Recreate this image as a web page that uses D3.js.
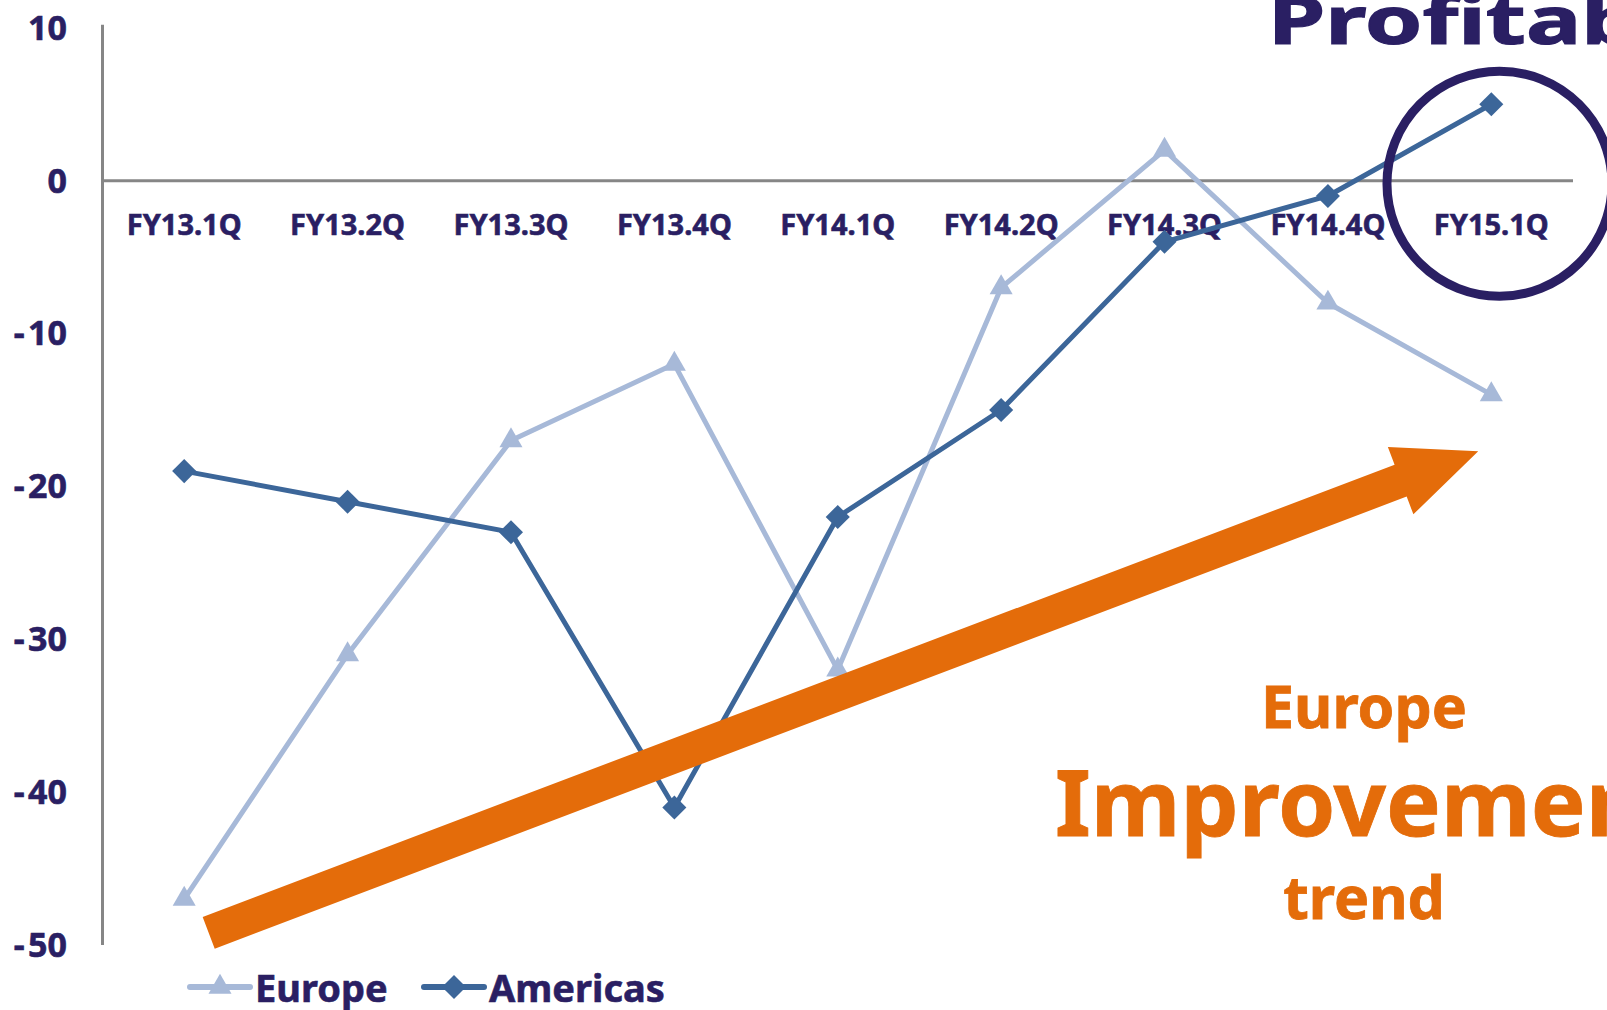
<!DOCTYPE html>
<html>
<head>
<meta charset="utf-8">
<script src="https://d3js.org/d3.v7.min.js"></script>
<style>
  body { margin: 0; background: #fff; overflow: hidden; }
  svg { display: block; font-family: "Noto Sans", sans-serif; font-weight: 700; }
  .navy { fill: #2a1f63; stroke: #2a1f63; stroke-width: 0.6px; }
  .note { fill: #e46c0a; }
  text.note { stroke: #e46c0a; stroke-width: 0.8px; }
</style>
</head>
<body>
<svg id="chart" width="1607" height="1010"></svg>
<script>
var quarters = ["FY13.1Q", "FY13.2Q", "FY13.3Q", "FY13.4Q", "FY14.1Q", "FY14.2Q", "FY14.3Q", "FY14.4Q", "FY15.1Q"];
var europe = [-47, -31, -17, -12, -32, -7, 2, -8, -14];
var americas = [-19, -21, -23, -41, -22, -15, -4, -1, 5];
var yTicks = [10, 0, -10, -20, -30, -40, -50];

// trend arrow, in (quarter index, value) units
var trendFrom = [0.15, -49.2];
var trendTo = [7.92, -17.7];

var series = [
  {name: "Europe", values: europe, color: "#a7b9d8", symbol: d3.symbolTriangle, size: 230, rotate: 0},
  {name: "Americas", values: americas, color: "#3c6699", symbol: d3.symbolSquare, size: 290, rotate: 45}
];

var svg = d3.select("#chart");

var left = 102.5, right = 1573;
var x = d3.scalePoint().domain(quarters).range([left, right]).padding(0.5);
var xi = d3.scaleLinear().domain([0, quarters.length - 1]).range([x(quarters[0]), x(quarters[quarters.length - 1])]);
var y = d3.scaleLinear().domain([-50, 10]).range([945, 27.8]);

// axes
svg.append("line")
  .attr("x1", left).attr("x2", left)
  .attr("y1", y(10) - 3).attr("y2", y(-50))
  .attr("stroke", "#868686").attr("stroke-width", 3);
svg.append("line")
  .attr("x1", left).attr("x2", right)
  .attr("y1", y(0)).attr("y2", y(0))
  .attr("stroke", "#868686").attr("stroke-width", 3);

svg.selectAll("text.ytick").data(yTicks).enter().append("text")
  .attr("class", "ytick navy")
  .attr("x", 67)
  .attr("y", function(d) { return y(d); })
  .attr("dy", "0.35em")
  .attr("text-anchor", "end")
  .style("font-size", "34px")
  .text(function(d) { return d < 0 ? "-\u200a" + Math.abs(d) : d; });

svg.selectAll("text.xtick").data(quarters).enter().append("text")
  .attr("class", "xtick navy")
  .attr("x", function(d) { return x(d); })
  .attr("y", 235)
  .attr("text-anchor", "middle")
  .style("font-size", "29px")
  .text(function(d) { return d; });

// lines and markers
var line = d3.line()
  .x(function(d, i) { return x(quarters[i]); })
  .y(function(d) { return y(d); });

series.forEach(function(s) {
  svg.append("path")
    .datum(s.values)
    .attr("d", line)
    .attr("fill", "none")
    .attr("stroke", s.color)
    .attr("stroke-width", 5)
    .attr("stroke-linejoin", "round");
  svg.selectAll(null).data(s.values).enter().append("path")
    .attr("d", d3.symbol().type(s.symbol).size(s.size))
    .attr("transform", function(d, i) { return "translate(" + x(quarters[i]) + "," + y(d) + ") rotate(" + s.rotate + ")"; })
    .attr("fill", s.color);
});

// orange trend arrow
function arrowPath(p0, p1, shaft, head, headLen) {
  var dx = p1[0] - p0[0], dy = p1[1] - p0[1];
  var len = Math.sqrt(dx * dx + dy * dy);
  var ux = dx / len, uy = dy / len, nx = -uy, ny = ux;
  var bx = p1[0] - ux * headLen, by = p1[1] - uy * headLen;
  var pts = [
    [p0[0] + nx * shaft / 2, p0[1] + ny * shaft / 2],
    [bx + nx * shaft / 2, by + ny * shaft / 2],
    [bx + nx * head / 2, by + ny * head / 2],
    p1,
    [bx - nx * head / 2, by - ny * head / 2],
    [bx - nx * shaft / 2, by - ny * shaft / 2],
    [p0[0] - nx * shaft / 2, p0[1] - ny * shaft / 2]
  ];
  return "M" + pts.map(function(p) { return p.join(","); }).join("L") + "Z";
}

svg.append("path")
  .attr("class", "note")
  .attr("d", arrowPath([xi(trendFrom[0]), y(trendFrom[1])], [xi(trendTo[0]), y(trendTo[1])], 34, 72, 83));

// circle around the last quarter
svg.append("circle")
  .attr("cx", xi(8.05))
  .attr("cy", y(-0.2))
  .attr("r", 112.5)
  .attr("fill", "none")
  .attr("stroke", "#2a1f63")
  .attr("stroke-width", 9);

// title, cut by the page edge
svg.append("text")
  .attr("class", "navy")
  .attr("transform", "translate(1268,44) scale(1.4,1)")
  .style("font-size", "66px")
  .style("stroke-width", "1.2px")
  .text("Profitability");

// Europe improvement note
var notes = [{t: "Europe", x: 1364, y: 728, s: 59, a: "middle"},
             {t: "Improvement", x: 1055, y: 836, s: 92, a: "start"},
             {t: "trend", x: 1364, y: 919, s: 59, a: "middle"}];
svg.selectAll("text.notes").data(notes).enter().append("text")
  .attr("class", "notes note")
  .attr("x", function(d) { return d.x; })
  .attr("y", function(d) { return d.y; })
  .attr("text-anchor", function(d) { return d.a; })
  .style("font-size", function(d) { return d.s + "px"; })
  .text(function(d) { return d.t; });

// legend
var legendX = [190, 424];
series.forEach(function(s, i) {
  var lx = legendX[i], ly = 987;
  svg.append("line")
    .attr("x1", lx).attr("x2", lx + 60)
    .attr("y1", ly).attr("y2", ly)
    .attr("stroke", s.color).attr("stroke-width", 6)
    .attr("stroke-linecap", "round");
  svg.append("path")
    .attr("d", d3.symbol().type(s.symbol).size(s.size))
    .attr("transform", "translate(" + (lx + 30) + "," + ly + ") rotate(" + s.rotate + ")")
    .attr("fill", s.color);
  svg.append("text")
    .attr("class", "navy")
    .attr("x", lx + 65)
    .attr("y", 1002)
    .style("font-size", "38px")
    .text(s.name);
});
</script>
</body>
</html>
